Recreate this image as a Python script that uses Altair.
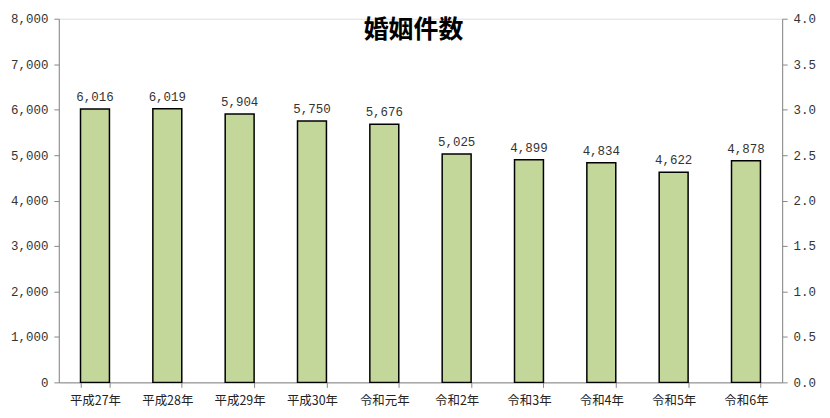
import altair as alt
import pandas as pd

years = ["平成27年", "平成28年", "平成29年", "平成30年", "令和元年",
         "令和2年", "令和3年", "令和4年", "令和5年", "令和6年"]
counts = [6016, 6019, 5904, 5750, 5676, 5025, 4899, 4834, 4622, 4878]
left_ticks = [0, 1000, 2000, 3000, 4000, 5000, 6000, 7000, 8000]
right_ticks = [0.0, 0.5, 1.0, 1.5, 2.0, 2.5, 3.0, 3.5, 4.0]
title_text = "婚姻件数"

df = pd.DataFrame({"year": years, "count": counts})
FONT = "Noto Sans CJK JP"
NUMFONT = "Liberation Mono"
W, H = 726, 365

xenc = alt.X("year:N", sort=years, title=None,
             scale=alt.Scale(paddingInner=0.6, paddingOuter=0.3),
             axis=alt.Axis(labelAngle=0, tickBand="extent", labelFontSize=12.5,
                           labelColor="#222222", labelFont=FONT, labelPadding=7,
                           domainColor="#888888", tickColor="#888888", tickSize=5,
                           grid=False))

base = alt.Chart(df)

bars = base.mark_bar(color="#C4D79B", stroke="black", strokeWidth=1.5).encode(
    x=xenc,
    y=alt.Y("count:Q", title=None, scale=alt.Scale(domain=[0, 8000]),
            axis=alt.Axis(values=left_ticks, format=",.0f", grid=False, labelFontSize=12.5,
                          labelFont=NUMFONT, labelColor="#333333", domainColor="#888888",
                          tickColor="#888888", tickSize=5, labelPadding=6)),
)

labels = base.mark_text(baseline="bottom", dy=-5, fontSize=12.5, font=NUMFONT, color="#333333").encode(
    x=alt.X("year:N", sort=years),
    y=alt.Y("count:Q"),
    text=alt.Text("count:Q", format=",.0f"),
)

left = alt.layer(bars, labels)

right = alt.Chart(pd.DataFrame({"v": right_ticks})).mark_point(opacity=0).encode(
    y=alt.Y("v:Q", title=None, scale=alt.Scale(domain=[0, 4]),
            axis=alt.Axis(orient="right", values=right_ticks, format=".1f", grid=False,
                          labelFontSize=12.5, labelFont=NUMFONT, labelColor="#333333",
                          domainColor="#888888", tickColor="#888888", tickSize=5,
                          labelPadding=6)),
)

title = alt.Chart(pd.DataFrame({"t": [title_text]})).mark_text(
    fontSize=25, fontWeight="bold", font=FONT, color="black", baseline="middle"
).encode(x=alt.value(356), y=alt.value(11), text="t:N")

chart = alt.layer(left, right, title).resolve_scale(y="independent").properties(
    width=W, height=H,
    autosize=alt.AutoSizeParams(type="none"),
    padding={"left": 51, "top": 10, "right": 40, "bottom": 35},
).configure_view(stroke=None, strokeWidth=0).configure_axis(grid=False).configure(background="white")

chart.save("out.html", embed_options={"renderer": "svg", "actions": False})
